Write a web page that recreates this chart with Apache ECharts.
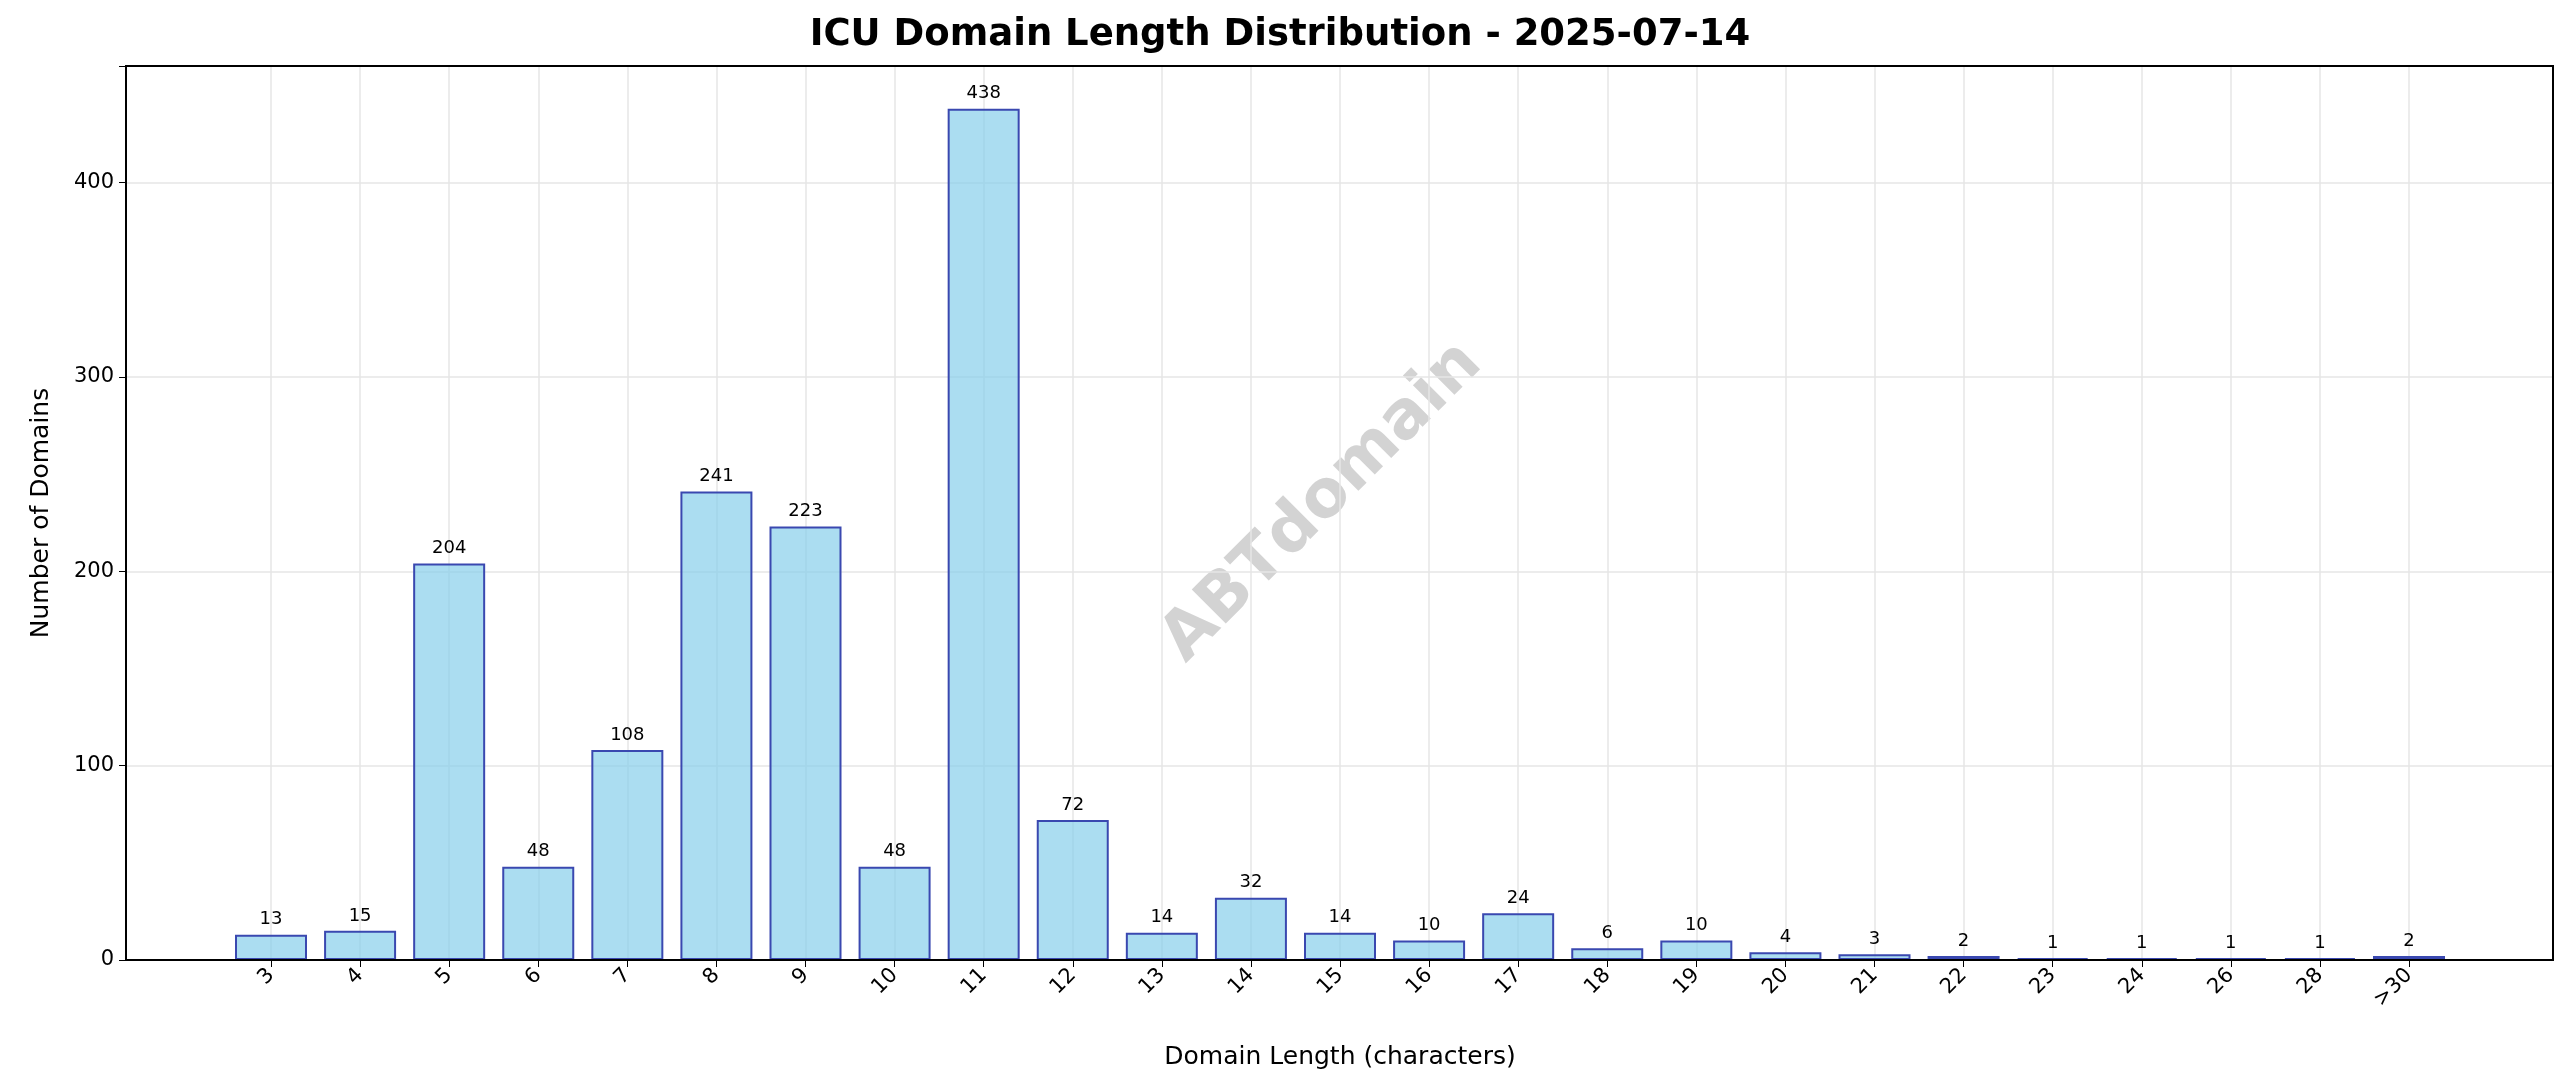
<!DOCTYPE html>
<html><head><meta charset="utf-8">
<script src="https://cdn.jsdelivr.net/npm/echarts@6/dist/echarts.min.js"></script>
<style>html,body{margin:0;padding:0;background:#fff}#c{width:2560px;height:1087px}</style>
</head><body><div id="c"></div>
<script>
const categories = ['3','4','5','6','7','8','9','10','11','12','13','14','15','16','17','18','19','20','21','22','23','24','26','28','>30'];
const counts = [13,15,204,48,108,241,223,48,438,72,14,32,14,10,24,6,10,4,3,2,1,1,1,1,2];
const yTicks = [0,100,200,300,400];
const font = 'DejaVu Sans';
const chart = echarts.init(document.getElementById('c'));
chart.setOption({
  backgroundColor:'#fff',
  animation:false,
  title:{text:'ICU Domain Length Distribution - 2025-07-14',left:'center',top:12,
    textStyle:{fontFamily:font,fontSize:37,fontWeight:'bold',color:'#000'}},
  grid:[
    {left:126,right:7,top:66,bottom:127,show:true,borderColor:'#000',borderWidth:2,z:10,containLabel:false},
    {left:271,right:151,top:66,bottom:127,containLabel:false}
  ],
  xAxis:[
    {gridIndex:0,type:'value',min:0,max:1,show:false},
    {gridIndex:1,type:'category',data:categories,boundaryGap:false,
      axisLine:{show:false},
      axisTick:{length:7,lineStyle:{color:'#000'}},
      axisLabel:{rotate:45,fontFamily:font,fontSize:21,color:'#000',interval:0,margin:12},
      splitLine:{show:true,interval:0,lineStyle:{color:'#e6e6e6',width:1.5}},
      name:'Domain Length (characters)',nameLocation:'middle',nameGap:85,
      nameTextStyle:{fontFamily:font,fontSize:25,color:'#000'}}
  ],
  yAxis:[
    {gridIndex:0,type:'value',min:0,max:460,interval:100,
      axisLine:{show:false},axisTick:{show:true,length:7,lineStyle:{color:'#000'}},
      axisLabel:{fontFamily:font,fontSize:21,color:'#000',margin:12,
        formatter:v=>yTicks.includes(v)?String(v):''},
      splitLine:{show:true,lineStyle:{color:'#e6e6e6',width:1.5}},
      name:'Number of Domains',nameLocation:'middle',nameGap:72,
      nameTextStyle:{fontFamily:font,fontSize:25,color:'#000'}},
    {gridIndex:1,type:'value',min:0,max:460,show:false}
  ],
  series:[{
    type:'bar',xAxisIndex:1,yAxisIndex:1,data:counts,barWidth:72,clip:false,
    itemStyle:{color:'rgba(135,206,235,0.7)',borderColor:'#3a48b0',borderWidth:2},
    label:{show:true,position:'top',distance:6,fontFamily:font,fontSize:18,color:'#000'}
  }],
  graphic:[{type:'text',left:1150,top:330,rotation:Math.PI/4,
    style:{text:'ABTdomain',fontFamily:font,fontSize:66,fontWeight:'bold',fill:'rgba(128,128,128,0.35)'}}]
});
</script></body></html>
